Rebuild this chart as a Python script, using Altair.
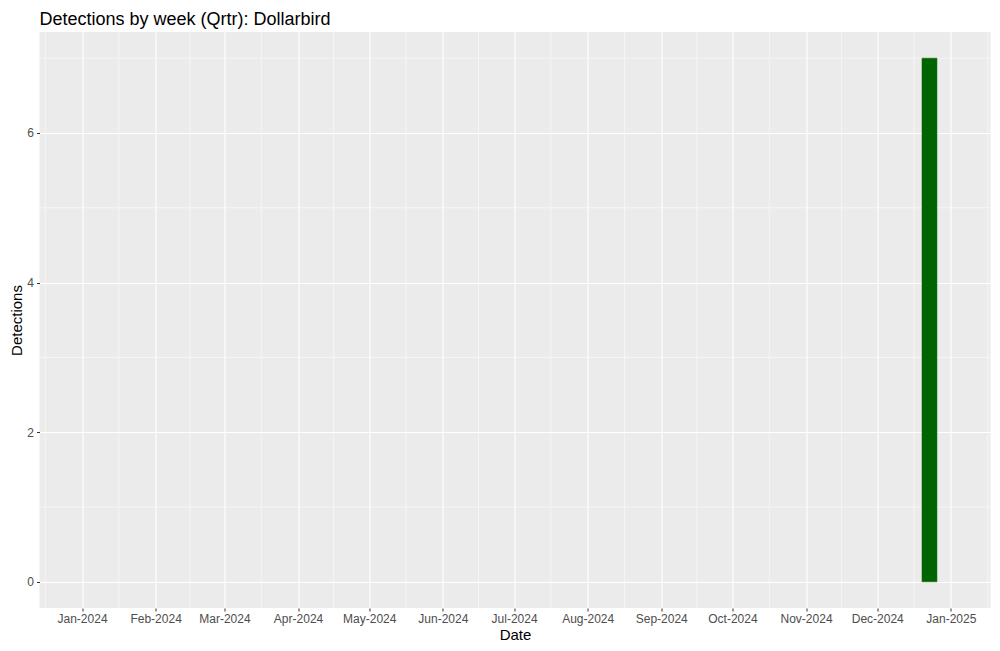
import altair as alt
import pandas as pd

# Data
weeks = ["2024-12-23"]
detections = [7]
month_ticks = ["2024-01-01", "2024-02-01", "2024-03-01", "2024-04-01", "2024-05-01",
               "2024-06-01", "2024-07-01", "2024-08-01", "2024-09-01", "2024-10-01",
               "2024-11-01", "2024-12-01", "2025-01-01"]
y_major = [0, 2, 4, 6]
y_minor = [1, 3, 5, 7]

df = pd.DataFrame({"week": weeks, "count": detections})

# minor x grid at midpoints between month starts (incl. neighbours)
ms = pd.to_datetime(["2023-12-01"] + month_ticks + ["2025-02-01"])
mids = [(ms[i] + (ms[i + 1] - ms[i]) / 2).strftime("%Y-%m-%dT%H:%M:%S") + "Z" for i in range(len(ms) - 1)]
xminor = pd.DataFrame({"d": mids})
yminor = pd.DataFrame({"v": y_minor})

FONT = "Liberation Sans"
xdomain = [alt.DateTime(year=2023, month=12, date=14, hours=2, utc=True),
           alt.DateTime(year=2025, month=1, date=17, hours=17, utc=True)]
xscale = alt.Scale(type="utc", domain=xdomain)
yscale = alt.Scale(domain=[-0.35, 7.35], nice=False, zero=False)

tick_vals = [alt.DateTime(year=int(s[:4]), month=int(s[5:7]), date=1, utc=True) for s in month_ticks]

xaxis = alt.Axis(values=tick_vals, format="%b-%Y", title="Date", grid=True,
                 gridColor="white", gridWidth=1.1, domain=False, tickColor="#333333",
                 tickSize=3, tickWidth=1, labelColor="#4D4D4D", labelFontSize=12,
                 labelFont=FONT, labelPadding=2, titleFont=FONT, titleFontSize=15,
                 titleFontWeight="normal", titleColor="black", titlePadding=3,
                 labelFlush=False, labelOverlap=False)
yaxis = alt.Axis(values=y_major, title="Detections", grid=True, gridColor="white",
                 gridWidth=1.1, domain=False, tickColor="#333333", tickSize=3,
                 tickWidth=1, labelColor="#4D4D4D", labelFontSize=12, labelFont=FONT,
                 labelPadding=3, titleFont=FONT, titleFontSize=15,
                 titleFontWeight="normal", titleColor="black", titlePadding=2)

vminor = alt.Chart(xminor).mark_rule(color="white", strokeWidth=0.55).encode(
    x=alt.X("d:T", scale=xscale, axis=xaxis)
)
hminor = alt.Chart(yminor).mark_rule(color="white", strokeWidth=0.55).encode(
    y=alt.Y("v:Q", scale=yscale, axis=yaxis)
)

bars = alt.Chart(df).transform_calculate(
    x0="toDate(datum.week) - 3.15*86400000",
    x1="toDate(datum.week) + 3.15*86400000",
).mark_rect(color="#006400", stroke="#006400", strokeWidth=0.5).encode(
    x=alt.X("x0:T", scale=xscale, axis=xaxis),
    x2="x1:T",
    y=alt.Y("count:Q", scale=yscale, axis=yaxis),
    y2=alt.datum(0),
)

chart = alt.layer(vminor, hminor, bars).properties(
    width=951, height=576,
    background="white",
    autosize=alt.AutoSizeParams(type="none"),
    padding={"left": 31.5, "top": 24, "right": 1, "bottom": 35},
    title=alt.TitleParams("Detections by week (Qrtr): Dollarbird", anchor="start",
                          frame="group", font=FONT, fontSize=18, fontWeight="normal",
                          color="black", offset=3),
).configure_view(fill="#EBEBEB", strokeWidth=0)

chart.save("out.html", embed_options={"renderer": "svg", "actions": False})
